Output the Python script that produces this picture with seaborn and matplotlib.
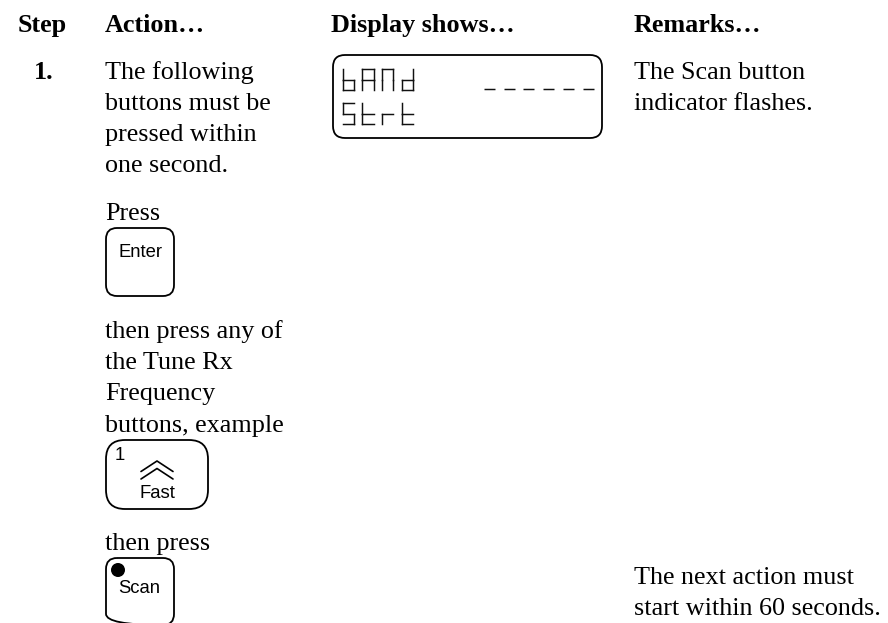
import matplotlib
matplotlib.use("Agg")
import matplotlib.pyplot as plt
from matplotlib.patches import FancyBboxPatch, Circle
import seaborn as sns

sns.set_theme(style="white")
plt.rcParams['font.family'] = ['Liberation Serif', 'DejaVu Serif']

W, H = 888, 623

# ---- text content ----
headers = ["Step", "Action…", "Display shows…", "Remarks…"]
step_label = "1."
action_text = ["The following", "buttons must be", "pressed within", "one second.",
               "Press", "then press any of", "the Tune Rx", "Frequency",
               "buttons, example", "then press"]
remark_text = ["The Scan button", "indicator flashes.",
               "The next action must", "start within 60 seconds."]
lcd_line1 = "bAnd"
lcd_line2 = "Strt"
lcd_dashes = 6

# ---- layout ----
header_x = [18, 105, 331, 634]
header_y = 32
action_x = 105
action_y = [79, 110, 141, 172, 220, 338, 369, 400, 432, 550]
remark_x = 634
remark_y = [79, 110, 584, 615]

# x, y, w, h, corner radius
boxes = [(106, 228, 68, 68, 11), (106, 440, 102, 69, 19),
         (106, 558, 68, 67, 11), (333, 55, 269, 83, 12)]

# which of the seven segments each LCD glyph lights:
# t=top, ul/ur=upper sides, m=middle, ll/lr=lower sides, d=bottom
segments = {
    "b": ["ul", "ll", "m", "lr", "d"],
    "A": ["t", "ul", "ur", "m", "ll", "lr"],
    "n": ["t", "ul", "ur", "ll", "lr"],
    "d": ["ur", "lr", "m", "ll", "d"],
    "S": ["t", "ul", "m", "lr", "d"],
    "t": ["ul", "ll", "m", "d"],
    "r": ["m", "ll"],
}

fig = plt.figure(figsize=(W / 100, H / 100), dpi=100)
ax = fig.add_axes([0, 0, 1, 1])
ax.set_xlim(0, W)
ax.set_ylim(H, 0)
ax.axis("off")
sns.despine(ax=ax, left=True, bottom=True)

SERIF = 18.8
for x, t in zip(header_x, headers):
    ax.text(x, header_y, t, fontsize=SERIF, fontweight="bold", va="baseline", color="black")
ax.text(34, action_y[0], step_label, fontsize=SERIF, fontweight="bold", va="baseline", color="black")
for y, t in zip(action_y, action_text):
    ax.text(action_x, y, t, fontsize=SERIF, va="baseline", color="black")
for y, t in zip(remark_y, remark_text):
    ax.text(remark_x, y, t, fontsize=SERIF, va="baseline", color="black")

for x, y, w, h, r in boxes:
    ax.add_patch(FancyBboxPatch((x, y), w, h, boxstyle=f"round,pad=0,rounding_size={r}",
                                fc="none", ec="black", lw=1.3))

sans = dict(family="Liberation Sans", fontsize=13.3, color="black", va="baseline")
ax.text(118, 257, "Enter", ha="left", **sans)
ax.text(115, 460, "1", ha="left", **sans)
ax.text(157, 498, "Fast", ha="center", **sans)
ax.text(118, 593, "Scan", ha="left", **sans)
ax.add_patch(Circle((118, 570), 7, fc="black", ec="none"))
for dy in (0, 7.5):
    ax.plot([141, 157, 173], [471.5 + dy, 461 + dy, 471.5 + dy], color="black", lw=1.2)


def draw_glyph(ch, x0, y0, gw=11.5, gh=21):
    x1, ym, y1 = x0 + gw, y0 + gh / 2, y0 + gh
    coords = {
        "t": ([x0, x1], [y0, y0]), "m": ([x0, x1], [ym, ym]), "d": ([x0, x1], [y1, y1]),
        "ul": ([x0, x0], [y0, ym]), "ur": ([x1, x1], [y0, ym]),
        "ll": ([x0, x0], [ym, y1]), "lr": ([x1, x1], [ym, y1]),
    }
    for seg in segments[ch]:
        ax.plot(*coords[seg], color="#111111", lw=1.05, solid_capstyle="projecting")


PITCH = 19.7
for i, ch in enumerate(lcd_line1):
    draw_glyph(ch, 342.5 + i * PITCH, 69)
for i, ch in enumerate(lcd_line2):
    draw_glyph(ch, 342.5 + i * PITCH, 103)
for i in range(lcd_dashes):
    ax.plot([484 + i * PITCH, 495 + i * PITCH], [89, 89], color="#111111", lw=1.05, solid_capstyle="butt")

fig.savefig("out.png", dpi=100)
